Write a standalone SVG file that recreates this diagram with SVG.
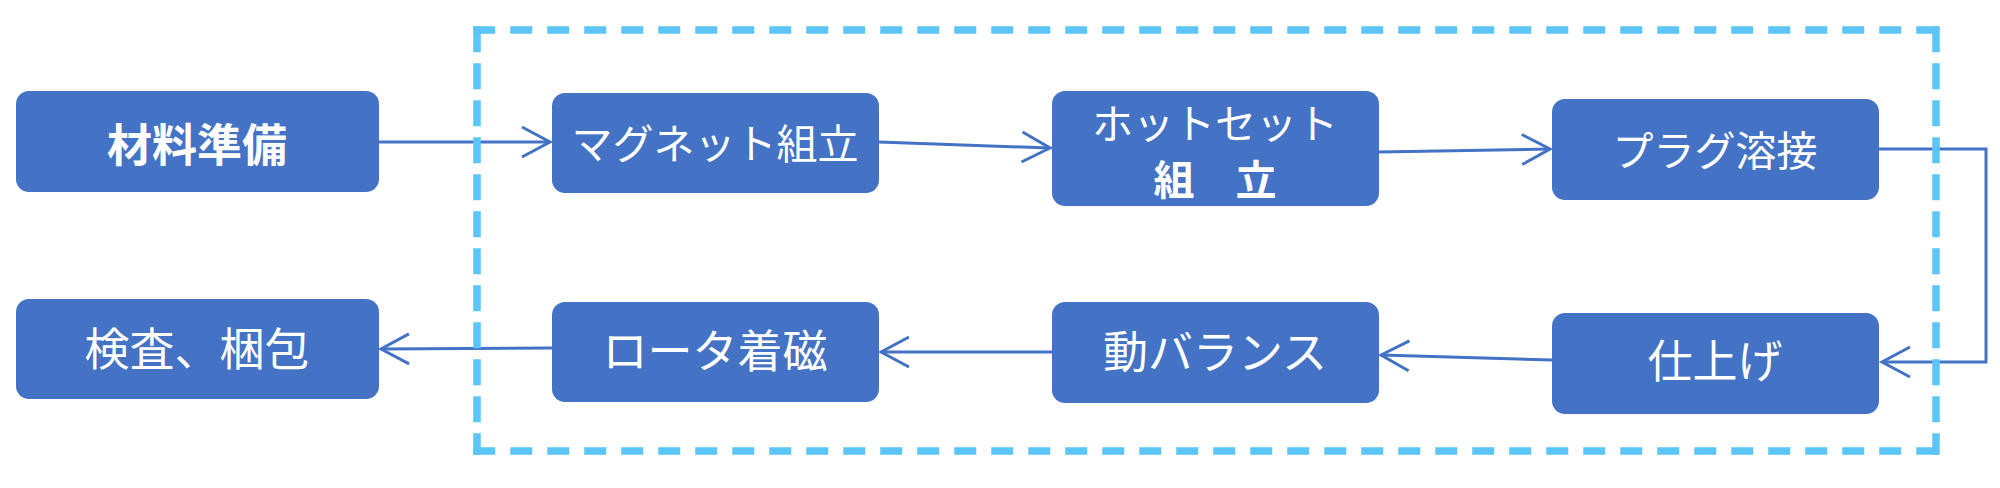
<svg xmlns="http://www.w3.org/2000/svg" width="2000" height="488" viewBox="0 0 2000 488">
<style>
.box{fill:#4472C4}
.t{font-family:"Noto Sans CJK JP","Noto Sans",sans-serif;fill:#ffffff;text-anchor:middle;dominant-baseline:central;font-size:45px}
.s{font-size:41px}
.b{font-weight:bold}
.c{fill:none;stroke:#4472C4;stroke-width:3}
.fh{fill:none;stroke:#5BC5F7;stroke-width:7.5;stroke-dasharray:22 15}
.fv{fill:none;stroke:#5BC5F7;stroke-width:7.5;stroke-dasharray:26 11}
</style>
<defs>
<marker id="arr" markerUnits="userSpaceOnUse" markerWidth="40" markerHeight="40" viewBox="-30 -20 34 40" refX="0" refY="0" orient="auto">
<path d="M-28,-15 L0,0 L-28,15" fill="none" stroke="#4472C4" stroke-width="3"/>
</marker>
</defs>
<rect width="2000" height="488" fill="#ffffff"/>
<g id="connectors">
<line class="c" x1="379" y1="142" x2="550" y2="142" marker-end="url(#arr)"/>
<line class="c" x1="879" y1="142" x2="1050" y2="148" marker-end="url(#arr)"/>
<line class="c" x1="1379" y1="152" x2="1550" y2="149" marker-end="url(#arr)"/>
<polyline class="c" points="1879,149 1986,149 1986,362 1882,362" marker-end="url(#arr)"/>
<line class="c" x1="1552" y1="360" x2="1381" y2="355" marker-end="url(#arr)"/>
<line class="c" x1="1052" y1="352" x2="881" y2="352" marker-end="url(#arr)"/>
<line class="c" x1="552" y1="348" x2="381" y2="349" marker-end="url(#arr)"/>
</g>
<g id="frame">
<path class="fh" d="M473.25,30 H1939.75"/>
<path class="fh" d="M473.25,451 H1939.75"/>
<path class="fv" d="M477,26.25 V454.75"/>
<path class="fv" d="M1936,26.25 V454.75"/>
</g>
<g id="n1"><rect class="box" x="16" y="91" width="363" height="101" rx="13"/><text class="t b" x="197" y="142">材料準備</text></g>
<g id="n2"><rect class="box" x="552" y="93" width="327" height="100" rx="13"/><text class="t s" x="715" y="141">マグネット組立</text></g>
<g id="n3"><rect class="box" x="1052" y="91" width="327" height="115" rx="13"/><text class="t s" x="1215" y="121">ホットセット</text><text class="t s b" x="1215" y="177">組　立</text></g>
<g id="n4"><rect class="box" x="1552" y="99" width="327" height="101" rx="13"/><text class="t s" x="1715" y="148">プラグ溶接</text></g>
<g id="n5"><rect class="box" x="1552" y="313" width="327" height="101" rx="13"/><text class="t" x="1715" y="358">仕上げ</text></g>
<g id="n6"><rect class="box" x="1052" y="302" width="327" height="101" rx="13"/><text class="t" x="1215" y="349">動バランス</text></g>
<g id="n7"><rect class="box" x="552" y="302" width="327" height="100" rx="13"/><text class="t" x="715" y="348">ロータ着磁</text></g>
<g id="n8"><rect class="box" x="16" y="299" width="363" height="100" rx="13"/><text class="t" x="197" y="346">検査、梱包</text></g>
</svg>
